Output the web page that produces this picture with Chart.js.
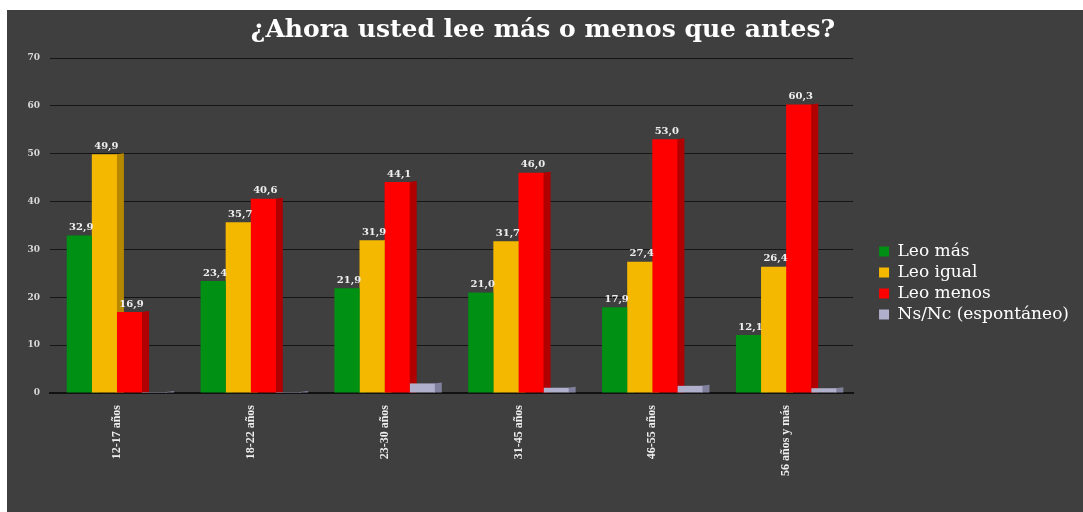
<!DOCTYPE html>
<html>
<head>
<meta charset="utf-8">
<script src="https://cdn.jsdelivr.net/npm/chart.js@4.4.0/dist/chart.umd.min.js"></script>
<style>
  body { margin: 0; background: #fff; }
  #wrap { position: absolute; left: 7px; top: 10px; width: 1076px; height: 502px; background: #3f3f3f; }
</style>
</head>
<body>
<div id="wrap"><canvas id="chart"></canvas></div>
<script>
const categories = ['12-17 años', '18-22 años', '23-30 años', '31-45 años', '46-55 años', '56 años y más'];
const leoMas = [32.9, 23.4, 21.9, 21.0, 17.9, 12.1];
const leoIgual = [49.9, 35.7, 31.9, 31.7, 27.4, 26.4];
const leoMenos = [16.9, 40.6, 44.1, 46.0, 53.0, 60.3];
const nsNc = [0.2, 0.2, 2.0, 1.1, 1.5, 1.0];
const yMax = 70;
const yStep = 10;

const serif = '"Liberation Serif", "DejaVu Serif", serif';
const wideSerif = '"DejaVu Serif", serif';

// fake 3d side face, drawn before the bars so only the uncovered ones show
const sides3d = {
  id: 'sides3d',
  beforeDatasetsDraw(chart) {
    const ctx = chart.ctx;
    chart.data.datasets.forEach((ds, i) => {
      const meta = chart.getDatasetMeta(i);
      meta.data.forEach(bar => {
        const p = bar.getProps(['x', 'y', 'base', 'width'], true);
        const r = p.x + p.width / 2;
        ctx.save();
        ctx.fillStyle = ds.sideColor;
        ctx.beginPath();
        ctx.moveTo(r - 1, p.y);
        ctx.lineTo(r + 7, p.y - 1);
        ctx.lineTo(r + 7, p.base);
        ctx.lineTo(r - 1, p.base);
        ctx.closePath();
        ctx.fill();
        ctx.restore();
      });
    });
  }
};

// value labels with comma decimals
const valueLabels = {
  id: 'valueLabels',
  afterDatasetsDraw(chart) {
    const ctx = chart.ctx;
    ctx.save();
    ctx.font = 'bold 10px ' + wideSerif;
    ctx.fillStyle = '#eeeeee';
    ctx.textAlign = 'center';
    ctx.textBaseline = 'bottom';
    chart.data.datasets.forEach((ds, i) => {
      if (!ds.showValues) return;
      chart.getDatasetMeta(i).data.forEach((bar, j) => {
        const txt = ds.data[j].toFixed(1).replace('.', ',');
        ctx.fillText(txt, bar.x + 2, bar.y - 3);
      });
    });
    ctx.restore();
  }
};

// push the legend down a bit
const legendShift = {
  id: 'legendShift',
  afterLayout(chart) {
    chart.legend.top += 22;
    chart.legend.bottom += 22;
  }
};

new Chart(document.getElementById('chart'), {
  type: 'bar',
  data: {
    labels: categories,
    datasets: [
      { label: 'Leo más', data: leoMas, backgroundColor: '#009014', sideColor: '#006a0e', showValues: true },
      { label: 'Leo igual', data: leoIgual, backgroundColor: '#f5b800', sideColor: '#b58800', showValues: true },
      { label: 'Leo menos', data: leoMenos, backgroundColor: '#ff0000', sideColor: '#b00000', showValues: true },
      { label: 'Ns/Nc (espontáneo)', data: nsNc, backgroundColor: '#b0b0cc', sideColor: '#80809c', showValues: false }
    ]
  },
  options: {
    responsive: true,
    maintainAspectRatio: false,
    animation: false,
    categoryPercentage: 0.75,
    barPercentage: 1,
    layout: { padding: { left: 0, right: 4, top: 0, bottom: 0 } },
    plugins: {
      title: {
        display: true,
        text: '¿Ahora usted lee más o menos que antes?',
        color: '#ffffff',
        font: { family: wideSerif, size: 25, weight: 'bold' },
        padding: { top: 5, bottom: 13 }
      },
      legend: {
        position: 'right',
        maxWidth: 260,
        labels: {
          color: '#ffffff',
          font: { family: wideSerif, size: 17 },
          boxWidth: 10,
          boxHeight: 10,
          padding: 4
        }
      },
      tooltip: { enabled: false }
    },
    scales: {
      x: {
        grid: { display: false },
        border: { color: '#111', width: 2 },
        ticks: {
          color: '#eeeeee',
          font: { family: serif, size: 12, weight: 'bold' },
          minRotation: 90,
          maxRotation: 90,
          padding: 4
        },
        afterFit(s) { s.height = 119; }
      },
      y: {
        min: 0,
        max: yMax,
        grid: { color: '#151515', drawTicks: false },
        border: { display: false },
        ticks: {
          stepSize: yStep,
          color: '#d8d8d8',
          font: { family: wideSerif, size: 9, weight: 'bold' },
          padding: 10
        },
        afterFit(s) { s.width = 43; }
      },
      gap: {
        position: 'right',
        grid: { display: false },
        border: { display: false },
        ticks: { display: false },
        afterFit(s) { s.width = 22; }
      }
    }
  },
  plugins: [sides3d, valueLabels, legendShift]
});
</script>
</body>
</html>
